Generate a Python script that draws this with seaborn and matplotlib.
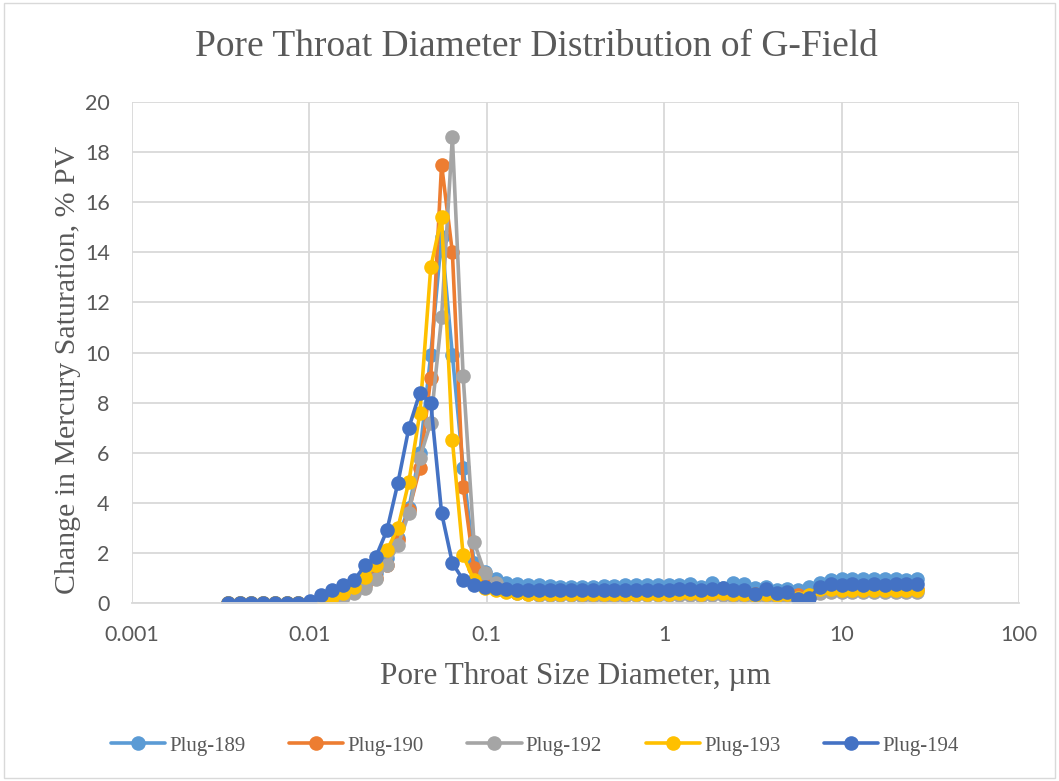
import matplotlib
matplotlib.use("Agg")
import matplotlib.pyplot as plt
import seaborn as sns
import pandas as pd
from matplotlib.patches import Rectangle

# pore throat diameters (um), shared by all plugs
diameter = [0.00348, 0.00405, 0.00471, 0.00548, 0.00638, 0.00744, 0.00866, 0.01008,
            0.01162, 0.0134, 0.01547, 0.01784, 0.02057, 0.02373, 0.02737, 0.03157,
            0.03641, 0.04201, 0.04834, 0.05562, 0.06399, 0.07362, 0.08472, 0.09743,
            0.1121, 0.129, 0.1484, 0.1708, 0.1965, 0.2261, 0.2601, 0.2993,
            0.3444, 0.3963, 0.4560, 0.5247, 0.6037, 0.6946, 0.7993, 0.9197,
            1.058, 1.218, 1.401, 1.612, 1.855, 2.135, 2.456, 2.826,
            3.252, 3.742, 4.306, 4.954, 5.700, 6.559, 7.547, 8.684,
            9.993, 11.50, 13.23, 15.22, 17.52, 20.16, 23.19, 26.61]

plug_189 = [0, 0, 0, 0, 0, 0, 0, 0.05, 0.2, 0.35, 0.5, 0.65, 0.8, 1.2, 1.8, 2.6,
            3.8, 6.0, 9.9, 14.6, 9.9, 5.4, 1.6, 1.25,
            0.95, 0.8, 0.75, 0.7, 0.7, 0.68, 0.65, 0.65, 0.65, 0.65, 0.68, 0.68,
            0.7, 0.7, 0.7, 0.7, 0.7, 0.72, 0.75, 0.65, 0.8, 0.6, 0.8, 0.75,
            0.6, 0.65, 0.5, 0.55, 0.5, 0.65, 0.8, 0.9, 0.95, 0.95, 0.95, 0.95,
            0.95, 0.95, 0.9, 0.95]
plug_190 = [0, 0, 0, 0, 0, 0, 0, 0.02, 0.1, 0.2, 0.35, 0.5, 0.7, 1.0, 1.5, 2.5,
            3.7, 5.4, 9.0, 17.5, 14.0, 4.65, 1.4, 0.9,
            0.6, 0.5, 0.45, 0.42, 0.4, 0.4, 0.4, 0.4, 0.4, 0.4, 0.4, 0.4,
            0.4, 0.4, 0.4, 0.4, 0.4, 0.42, 0.42, 0.4, 0.42, 0.45, 0.4, 0.4,
            0.35, 0.4, 0.35, 0.4, 0.3, 0.25, 0.55, 0.6, 0.55, 0.55, 0.55, 0.55,
            0.55, 0.55, 0.55, 0.55]
plug_192 = [0, 0, 0, 0, 0, 0, 0, 0, 0.05, 0.15, 0.25, 0.4, 0.6, 0.95, 1.5, 2.3,
            3.6, 5.8, 7.2, 11.4, 18.6, 9.05, 2.45, 1.2,
            0.8, 0.5, 0.4, 0.35, 0.3, 0.3, 0.3, 0.3, 0.28, 0.28, 0.28, 0.28,
            0.28, 0.3, 0.3, 0.3, 0.3, 0.3, 0.3, 0.28, 0.3, 0.3, 0.28, 0.28,
            0.25, 0.28, 0.25, 0.28, 0.2, 0.25, 0.4, 0.45, 0.42, 0.42, 0.42, 0.42,
            0.42, 0.42, 0.42, 0.42]
plug_193 = [0, 0, 0, 0, 0, 0, 0, 0.02, 0.1, 0.25, 0.4, 0.65, 1.05, 1.5, 2.1, 3.0,
            4.85, 7.6, 13.4, 15.4, 6.5, 1.9, 0.9, 0.6,
            0.5, 0.42, 0.38, 0.36, 0.35, 0.35, 0.35, 0.35, 0.35, 0.35, 0.35, 0.35,
            0.35, 0.35, 0.35, 0.35, 0.35, 0.38, 0.38, 0.35, 0.38, 0.4, 0.35, 0.35,
            0.3, 0.35, 0.3, 0.35, 0.2, 0.3, 0.55, 0.55, 0.5, 0.5, 0.5, 0.5,
            0.5, 0.5, 0.5, 0.5]
plug_194 = [0, 0, 0, 0, 0, 0, 0, 0.1, 0.3, 0.5, 0.7, 0.9, 1.5, 1.85, 2.9, 4.8,
            7.0, 8.4, 8.0, 3.6, 1.6, 0.92, 0.72, 0.65,
            0.6, 0.55, 0.52, 0.5, 0.5, 0.5, 0.5, 0.5, 0.5, 0.5, 0.5, 0.5,
            0.5, 0.5, 0.5, 0.5, 0.5, 0.55, 0.55, 0.5, 0.55, 0.6, 0.5, 0.5,
            0.35, 0.55, 0.4, 0.45, 0.15, 0.2, 0.65, 0.75, 0.7, 0.75, 0.7, 0.75,
            0.7, 0.75, 0.75, 0.75]

labels = ["Plug-189", "Plug-190", "Plug-192", "Plug-193", "Plug-194"]
colors = ["#5B9BD5", "#ED7D31", "#A5A5A5", "#FFC000", "#4472C4"]
series = [plug_189, plug_190, plug_192, plug_193, plug_194]

sns.set_style("white")
plt.rcParams["font.family"] = ["Liberation Serif", "DejaVu Serif"]

fig = plt.figure(figsize=(10.59, 7.81), dpi=100)
ax = fig.add_axes([0.1246, 0.2279, 0.8376, 0.6415])

for lab, col, vals in zip(labels, colors, series):
    df = pd.DataFrame({"d": diameter, "v": vals})
    sns.lineplot(data=df, x="d", y="v", ax=ax, color=col, marker="o",
                 markersize=10.5, markeredgewidth=0, linewidth=2.6, label=lab)

ax.set_xscale("log")
ax.set_xlim(0.001, 100)
ax.set_ylim(0, 20)
ax.set_yticks(range(0, 21, 2))
ax.set_xticks([0.001, 0.01, 0.1, 1, 10, 100])
ax.set_xticklabels(["0.001", "0.01", "0.1", "1", "10", "100"])
ax.minorticks_off()
ax.grid(True, color="#D9D9D9", linewidth=1.3)
ax.set_axisbelow(True)
for s in ["top", "right", "left"]:
    ax.spines[s].set_visible(False)
ax.spines["bottom"].set_color("#D9D9D9")
ax.spines["bottom"].set_linewidth(1.3)
ax.tick_params(length=0, labelsize=15.5, colors="#595959")
ax.tick_params(axis="x", pad=16)
ax.tick_params(axis="y", pad=16)
for t in ax.get_xticklabels() + ax.get_yticklabels():
    t.set_fontfamily("Lato")

# title is centred on the chart area, not the plot area
fig.text(0.507, 0.94, "Pore Throat Diameter Distribution of G-Field", fontsize=27,
         color="#595959", ha="center", va="center")
ax.set_xlabel("Pore Throat Size Diameter, µm", fontsize=22.5, color="#595959", labelpad=12)
ax.set_ylabel("Change in Mercury Saturation, % PV", fontsize=21.5, color="#595959")
ax.yaxis.set_label_coords(-0.058, 0.465)

ax.legend(loc="center", bbox_to_anchor=(0.505, 0.045), bbox_transform=fig.transFigure,
          ncol=5, frameon=False, fontsize=15, handlelength=2.6, columnspacing=2.1,
          handletextpad=0.2, labelcolor="#595959")

fig.patches.append(Rectangle((0.004, 0.004), 0.992, 0.992, transform=fig.transFigure,
                             fill=False, edgecolor="#D9D9D9", linewidth=1))

fig.savefig("out.png", dpi=100)
